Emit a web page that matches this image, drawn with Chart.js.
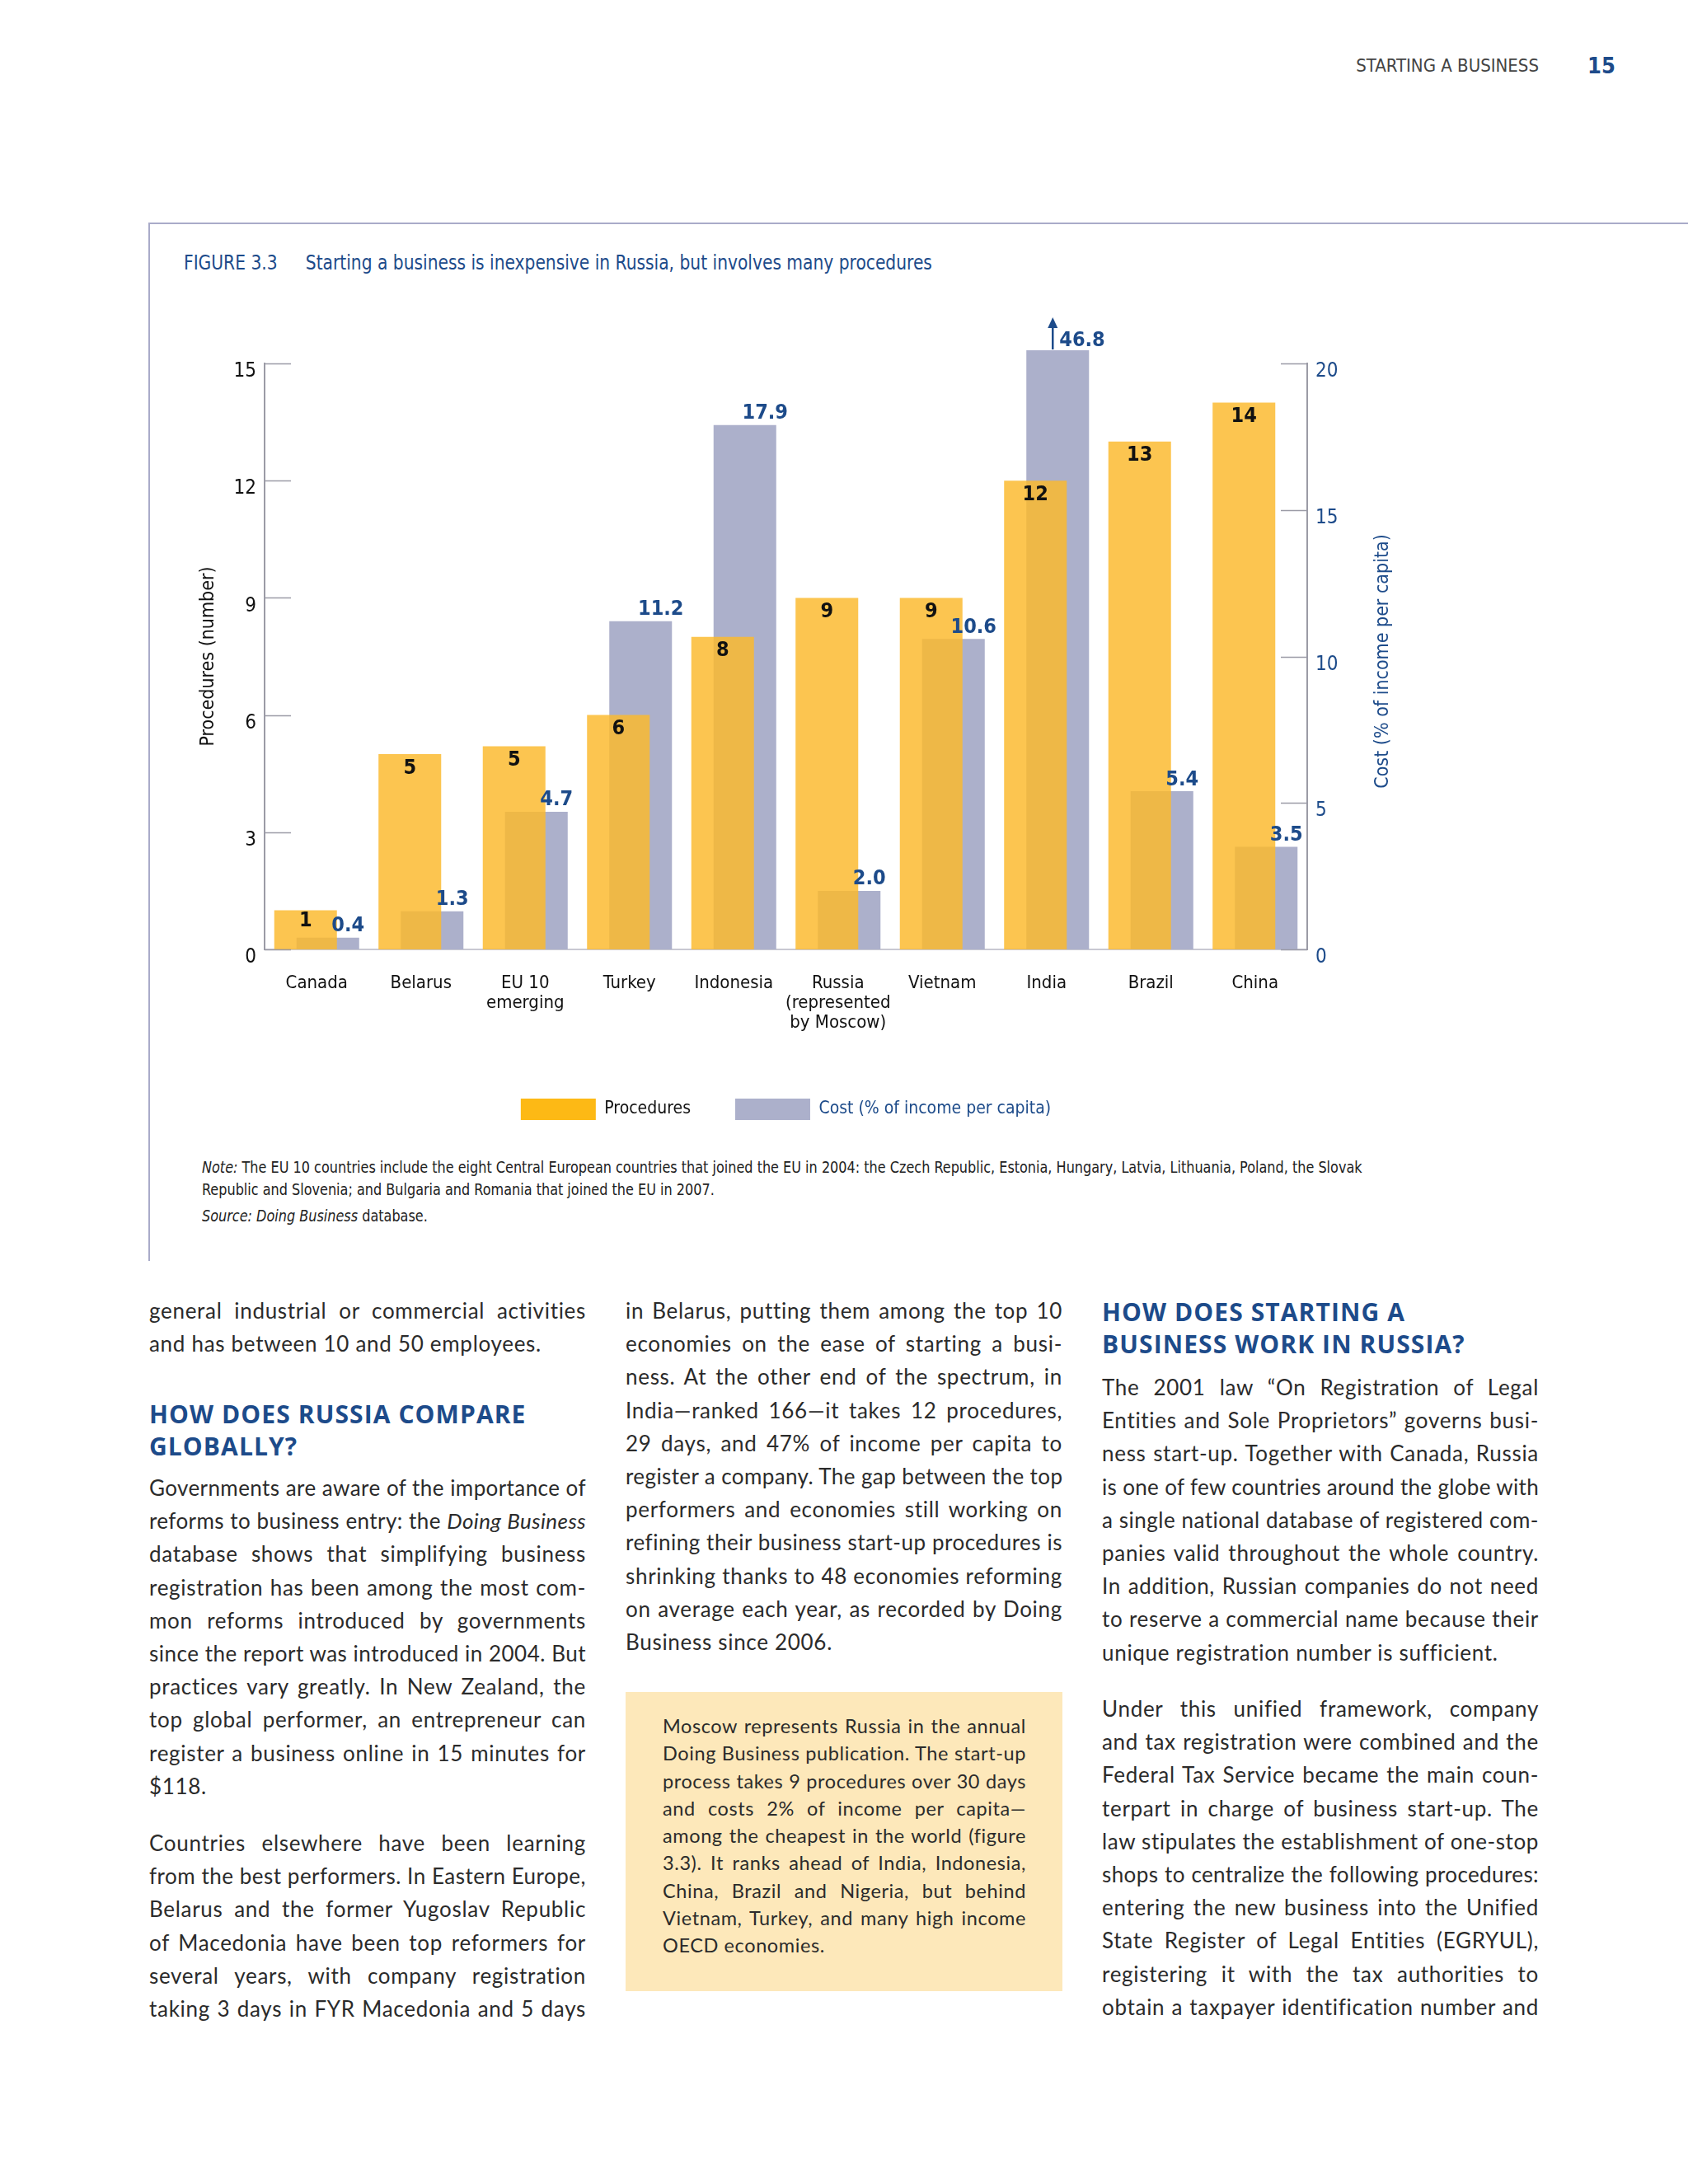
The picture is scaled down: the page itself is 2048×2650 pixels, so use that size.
<!DOCTYPE html>
<html>
<head>
<meta charset="utf-8">
<script src="https://cdn.jsdelivr.net/npm/chart.js@4.4.1/dist/chart.umd.min.js"></script>
<style>
  body { margin: 0; background: #fff; width: 2048px; height: 2650px; position: relative; overflow: hidden;
         font-family: Lato, 'Open Sans', sans-serif; color: #2b2b2b; }
  .abs { position: absolute; }
  .narrow { font-family: 'Liberation Sans Narrow', 'DejaVu Sans Condensed', sans-serif; }
  .col { position: absolute; width: 530px; font-size: 26px; line-height: 40.2px; letter-spacing: 0.7px; }
  .col div { white-space: nowrap; }
  .j { text-align: justify; text-align-last: justify; }
  .head { font-family: 'Open Sans', sans-serif; font-weight: 700; font-size: 30px; line-height: 39px; color: #1d4b8a; letter-spacing: 1.1px; }
  .box { position: absolute; left: 759px; top: 2053px; width: 530px; height: 363px; background: #fde8ba; }
  .boxtext { position: absolute; left: 804px; top: 2078px; width: 441px; font-size: 23.5px; line-height: 33.3px; letter-spacing: 0.6px; }
  .boxtext div { white-space: nowrap; }
</style>
</head>
<body>

<div class="abs narrow" style="right:181px; top:67px; font-size:22px; color:#444;">STARTING A BUSINESS</div>
<div class="abs narrow" style="left:1926px; top:64px; font-size:27px; font-weight:bold; color:#1d4b8a;">15</div>

<div class="abs" style="left:180px; top:270px; width:1868px; height:2px; background:#a9abc9;"></div>
<div class="abs" style="left:180px; top:270px; width:2px; height:1260px; background:#a9abc9;"></div>

<div class="abs narrow" style="left:223px; top:304px; font-size:25px; color:#1d4b8a; white-space:nowrap; transform:scaleX(0.9); transform-origin:left top;">FIGURE 3.3<span style="display:inline-block; width:38px;"></span>Starting a business is inexpensive in Russia, but involves many procedures</div>

<div class="abs" style="left:200px; top:370px; width:1560px; height:1010px;">
  <canvas id="chart"></canvas>
</div>

<div class="abs narrow" style="left:245px; top:1403px; font-size:20px; line-height:27px; color:#222; white-space:nowrap; transform:scaleX(0.893); transform-origin:left top;">
  <div><i>Note:</i> The EU 10 countries include the eight Central European countries that joined the EU in 2004: the Czech Republic, Estonia, Hungary, Latvia, Lithuania, Poland, the Slovak</div>
  <div>Republic and Slovenia; and Bulgaria and Romania that joined the EU in 2007.</div>
  <div style="margin-top:5px;"><i>Source: Doing Business</i> database.</div>
</div>

<!-- column 1 -->
<div class="col" style="left:181px; top:1570px;">
  <div class="j">general industrial or commercial activities</div>
  <div>and has between 10 and 50 employees.</div>
</div>
<div class="col head" style="left:181px; top:1696px;">
  <div>HOW DOES RUSSIA COMPARE</div>
  <div>GLOBALLY?</div>
</div>
<div class="col" style="left:181px; top:1785px;">
  <div class="j">Governments are aware of the importance of</div>
  <div class="j">reforms to business entry: the <i>Doing Business</i></div>
  <div class="j">database shows that simplifying business</div>
  <div class="j">registration has been among the most com-</div>
  <div class="j">mon reforms introduced by governments</div>
  <div class="j">since the report was introduced in 2004. But</div>
  <div class="j">practices vary greatly. In New Zealand, the</div>
  <div class="j">top global performer, an entrepreneur can</div>
  <div class="j">register a business online in 15 minutes for</div>
  <div>$118.</div>
</div>
<div class="col" style="left:181px; top:2216px;">
  <div class="j">Countries elsewhere have been learning</div>
  <div class="j">from the best performers. In Eastern Europe,</div>
  <div class="j">Belarus and the former Yugoslav Republic</div>
  <div class="j">of Macedonia have been top reformers for</div>
  <div class="j">several years, with company registration</div>
  <div class="j">taking 3 days in FYR Macedonia and 5 days</div>
</div>

<!-- column 2 -->
<div class="col" style="left:759px; top:1570px;">
  <div class="j">in Belarus, putting them among the top 10</div>
  <div class="j">economies on the ease of starting a busi-</div>
  <div class="j">ness. At the other end of the spectrum, in</div>
  <div class="j">India—ranked 166—it takes 12 procedures,</div>
  <div class="j">29 days, and 47% of income per capita to</div>
  <div class="j">register a company. The gap between the top</div>
  <div class="j">performers and economies still working on</div>
  <div class="j">refining their business start-up procedures is</div>
  <div class="j">shrinking thanks to 48 economies reforming</div>
  <div class="j">on average each year, as recorded by Doing</div>
  <div>Business since 2006.</div>
</div>
<div class="box"></div>
<div class="boxtext">
  <div class="j">Moscow represents Russia in the annual</div>
  <div class="j">Doing Business publication. The start-up</div>
  <div class="j">process takes 9 procedures over 30 days</div>
  <div class="j">and costs 2% of income per capita—</div>
  <div class="j">among the cheapest in the world (figure</div>
  <div class="j">3.3). It ranks ahead of India, Indonesia,</div>
  <div class="j">China, Brazil and Nigeria, but behind</div>
  <div class="j">Vietnam, Turkey, and many high income</div>
  <div>OECD economies.</div>
</div>

<!-- column 3 -->
<div class="col head" style="left:1337px; top:1572px;">
  <div>HOW DOES STARTING A</div>
  <div>BUSINESS WORK IN RUSSIA?</div>
</div>
<div class="col" style="left:1337px; top:1663px;">
  <div class="j">The 2001 law “On Registration of Legal</div>
  <div class="j">Entities and Sole Proprietors” governs busi-</div>
  <div class="j">ness start-up. Together with Canada, Russia</div>
  <div class="j">is one of few countries around the globe with</div>
  <div class="j">a single national database of registered com-</div>
  <div class="j">panies valid throughout the whole country.</div>
  <div class="j">In addition, Russian companies do not need</div>
  <div class="j">to reserve a commercial name because their</div>
  <div>unique registration number is sufficient.</div>
</div>
<div class="col" style="left:1337px; top:2053px;">
  <div class="j">Under this unified framework, company</div>
  <div class="j">and tax registration were combined and the</div>
  <div class="j">Federal Tax Service became the main coun-</div>
  <div class="j">terpart in charge of business start-up. The</div>
  <div class="j">law stipulates the establishment of one-stop</div>
  <div class="j">shops to centralize the following procedures:</div>
  <div class="j">entering the new business into the Unified</div>
  <div class="j">State Register of Legal Entities (EGRYUL),</div>
  <div class="j">registering it with the tax authorities to</div>
  <div class="j">obtain a taxpayer identification number and</div>
</div>

<script>
// squeeze any body line that would overflow its column
document.querySelectorAll('.col div, .boxtext div').forEach(function (el) {
    let ls = parseFloat(getComputedStyle(el).letterSpacing) || 0;
    const floor = ls - 3;
    while (el.scrollWidth > el.clientWidth && ls > floor) {
        ls -= 0.1;
        el.style.letterSpacing = ls.toFixed(1) + 'px';
    }
});

const categories = ['Canada', 'Belarus', ['EU 10', 'emerging'], 'Turkey', 'Indonesia',
    ['Russia', '(represented', 'by Moscow)'], 'Vietnam', 'India', 'Brazil', 'China'];
const procedures = [1, 5, 5.2, 6, 8, 9, 9, 12, 13, 14];
const procedureLabels = ['1', '5', '5', '6', '8', '9', '9', '12', '13', '14'];
const cost = [0.4, 1.3, 4.7, 11.2, 17.9, 2.0, 10.6, 46.8, 5.4, 3.5];
const costLabels = ['0.4', '1.3', '4.7', '11.2', '17.9', '2.0', '10.6', '46.8', '5.4', '3.5'];
const procedureTicks = [0, 3, 6, 9, 12, 15];
const costTicks = [0, 5, 10, 15, 20];
const costCap = 20.45; // bars past the axis top are cut here and get an arrow

const FONT = "'Liberation Sans Narrow', 'DejaVu Sans Condensed', sans-serif";
const BLUE = '#1d4b8a';
const yellowFill = 'rgba(251, 185, 44, 0.83)';
const greyFill = '#acb0cb';
const legendSwatches = ['#fdb915', '#acb0cb'];
const legendText = ['#111', BLUE];

const decorations = {
    id: 'decorations',
    afterDatasetsDraw: function (chart) {
        const ctx = chart.ctx;
        const area = chart.chartArea;
        const yL = chart.scales.y;
        const yR = chart.scales.y1;
        ctx.save();

        // short inward tick marks
        ctx.strokeStyle = '#9b9ba6';
        ctx.lineWidth = 1.5;
        yL.ticks.forEach(function (t) {
            const py = Math.round(yL.getPixelForValue(t.value)) + 0.5;
            ctx.beginPath(); ctx.moveTo(area.left, py); ctx.lineTo(area.left + 32, py); ctx.stroke();
        });
        yR.ticks.forEach(function (t) {
            const py = Math.round(yR.getPixelForValue(t.value)) + 0.5;
            ctx.beginPath(); ctx.moveTo(area.right, py); ctx.lineTo(area.right - 32, py); ctx.stroke();
        });

        const yellow = chart.getDatasetMeta(0).data;
        const grey = chart.getDatasetMeta(1).data;
        ctx.font = 'bold 25px ' + FONT;
        ctx.textBaseline = 'middle';

        ctx.fillStyle = '#111';
        ctx.textAlign = 'center';
        yellow.forEach(function (bar, i) {
            const h = bar.base - bar.y;
            ctx.fillText(procedureLabels[i], bar.x, bar.y + Math.min(17, h / 2 - 11));
        });

        ctx.fillStyle = BLUE;
        ctx.strokeStyle = BLUE;
        grey.forEach(function (bar, i) {
            if (cost[i] > costCap) {
                const ax = bar.x - 6;
                ctx.lineWidth = 2.5;
                ctx.beginPath(); ctx.moveTo(ax, bar.y - 1); ctx.lineTo(ax, bar.y - 30); ctx.stroke();
                ctx.beginPath(); ctx.moveTo(ax, bar.y - 40); ctx.lineTo(ax - 6, bar.y - 27); ctx.lineTo(ax + 6, bar.y - 27); ctx.closePath(); ctx.fill();
                ctx.textAlign = 'left';
                ctx.fillText(costLabels[i], bar.x + 2, bar.y - 12);
            } else {
                const yb = yellow[i];
                const x = (yb.x + yb.width / 2 + bar.x + bar.width / 2) / 2;
                ctx.textAlign = 'center';
                ctx.fillText(costLabels[i], x, bar.y - 14);
            }
        });

        // right axis title, reads bottom to top like the left one
        ctx.translate(area.right + 92, (area.top + area.bottom) / 2 + 6);
        ctx.rotate(-Math.PI / 2);
        ctx.font = '23px ' + FONT;
        ctx.textAlign = 'center';
        ctx.fillText('Cost (% of income per capita)', 0, 0);
        ctx.restore();
    }
};

new Chart(document.getElementById('chart'), {
    type: 'bar',
    data: {
        labels: categories,
        datasets: [{
            label: 'Procedures',
            data: procedures,
            yAxisID: 'y',
            backgroundColor: yellowFill,
            borderWidth: 0,
            categoryPercentage: 0.427,
            barPercentage: 2.815,
            clip: false
        }, {
            label: 'Cost (% of income per capita)',
            data: cost.map(function (v) { return Math.min(v, costCap); }),
            yAxisID: 'y1',
            backgroundColor: greyFill,
            borderWidth: 0,
            categoryPercentage: 0.427,
            barPercentage: 2.815,
            clip: false
        }]
    },
    options: {
        responsive: true,
        maintainAspectRatio: false,
        animation: false,
        layout: { padding: { top: 71, bottom: 11, left: 0, right: 0 } },
        plugins: {
            legend: {
                position: 'bottom',
                fullSize: false,
                labels: {
                    boxWidth: 91,
                    boxHeight: 26,
                    padding: 54,
                    font: { family: FONT, size: 21 },
                    generateLabels: function (chart) {
                        return chart.data.datasets.map(function (ds, i) {
                            return {
                                text: ds.label,
                                fillStyle: legendSwatches[i],
                                strokeStyle: legendSwatches[i],
                                lineWidth: 0,
                                fontColor: legendText[i],
                                hidden: false,
                                datasetIndex: i
                            };
                        });
                    }
                }
            },
            tooltip: { enabled: false }
        },
        scales: {
            x: {
                grid: { display: false, drawTicks: false },
                border: { color: '#c9c9d2', width: 2 },
                ticks: {
                    padding: 30, maxRotation: 0, autoSkip: false, color: '#111',
                    font: { family: FONT, size: 22, lineHeight: 1.07 }
                },
                afterFit: function (s) { s.height = 127; }
            },
            y: {
                position: 'left',
                min: procedureTicks[0],
                max: procedureTicks[procedureTicks.length - 1],
                grid: { display: false, drawTicks: false },
                border: { color: '#9b9ba6', width: 2 },
                ticks: {
                    stepSize: procedureTicks[1] - procedureTicks[0],
                    padding: 10, labelOffset: 10, color: '#111',
                    font: { family: FONT, size: 24 }
                },
                title: {
                    display: true, text: 'Procedures (number)', color: '#111',
                    font: { family: FONT, size: 23 }, padding: { top: 39 }
                },
                afterFit: function (s) { s.width = 121; }
            },
            y1: {
                position: 'right',
                min: costTicks[0],
                max: costTicks[costTicks.length - 1],
                grid: { display: false, drawTicks: false },
                border: { color: '#9b9ba6', width: 2 },
                ticks: {
                    stepSize: costTicks[1] - costTicks[0],
                    padding: 10, labelOffset: 10, color: BLUE,
                    font: { family: FONT, size: 24 }
                },
                afterFit: function (s) { s.width = 174; }
            }
        }
    },
    plugins: [decorations]
});
</script>
</body>
</html>
